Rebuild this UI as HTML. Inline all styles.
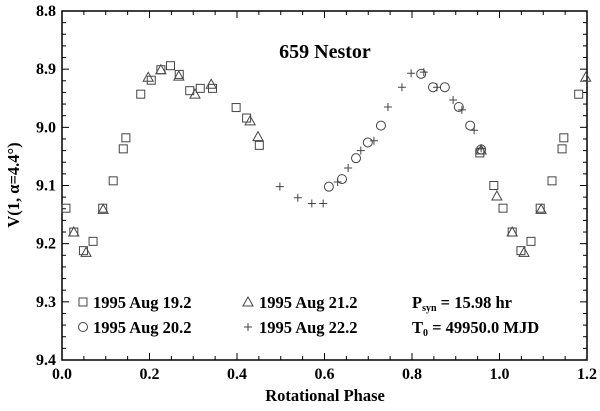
<!DOCTYPE html>
<html><head><meta charset="utf-8"><style>
body{margin:0;background:#fff}
svg text{font-family:"Liberation Serif",serif;font-weight:bold;fill:#000}
</style></head><body>
<svg id="c" width="600" height="406"></svg>
<script>
const sqPhase=[0.009,0.027,0.049,0.071,0.093,0.117,0.14,0.146,0.18,0.204,0.226,0.248,0.268,0.292,0.316,0.344,0.398,0.422,0.451,0.955,0.987,1.008,1.029,1.049,1.072,1.093,1.12,1.143,1.147,1.181];
const sqMag=[9.139,9.18,9.212,9.196,9.139,9.092,9.037,9.018,8.943,8.919,8.901,8.894,8.909,8.937,8.933,8.933,8.966,8.984,9.031,9.044,9.1,9.139,9.18,9.212,9.196,9.139,9.092,9.037,9.018,8.943];
const triPhase=[0.027,0.055,0.094,0.197,0.226,0.267,0.304,0.341,0.43,0.448,0.958,0.994,1.029,1.056,1.095,1.197];
const triMag=[9.18,9.215,9.141,8.914,8.901,8.912,8.943,8.926,8.989,9.016,9.039,9.118,9.18,9.215,9.141,8.914];
const cirPhase=[0.61,0.64,0.672,0.699,0.729,0.821,0.848,0.875,0.907,0.933,0.958];
const cirMag=[9.102,9.089,9.053,9.026,8.997,8.908,8.931,8.931,8.965,8.997,9.038];
const plusPhase=[0.498,0.539,0.571,0.597,0.63,0.654,0.683,0.713,0.745,0.777,0.798,0.827,0.857,0.894,0.914,0.942,0.958];
const plusMag=[9.102,9.121,9.131,9.131,9.094,9.07,9.04,9.023,8.965,8.931,8.907,8.905,8.931,8.953,8.97,9.005,9.036];
const xTicks=["0.0","0.2","0.4","0.6","0.8","1.0","1.2"];
const yTicks=["8.8","8.9","9.0","9.1","9.2","9.3","9.4"];
const L=62,R=587,T=11,B=360;
const X=p=>L+(p-0)/1.2*(R-L);
const Y=m=>T+(m-8.8)/0.6*(B-T);
const svg=document.getElementById('c');
const NS='http://www.w3.org/2000/svg';
function mk(t,a,p){const e=document.createElementNS(NS,t);for(const k in a)e.setAttribute(k,a[k]);(p||svg).appendChild(e);return e;}
let e=mk('rect',{x:L,y:T,width:R-L,height:B-T,fill:'none',stroke:'#000','stroke-width':1.5});


const tk=mk('g',{stroke:'#000','stroke-width':1});


for(let i=0;i<=24;i++){const x=X(i*0.05),len=i%4==0?7:4;
mk('line',{x1:x,y1:B,x2:x,y2:B-len},tk);mk('line',{x1:x,y1:T,x2:x,y2:T+len},tk);}
for(let i=0;i<=30;i++){const y=Y(8.8+i*0.02),len=i%5==0?7:4;
mk('line',{x1:L,y1:y,x2:L+len,y2:y},tk);mk('line',{x1:R,y1:y,x2:R-len,y2:y},tk);}
xTicks.forEach((t,i)=>{e=mk('text',{x:X(+t),y:B+19,'text-anchor':'middle','font-size':16});e.textContent=t;

});
yTicks.forEach((t,i)=>{e=mk('text',{x:L-6,y:Y(+t)+5,'text-anchor':'end','font-size':16});e.textContent=t;

});
function sq(x,y,g){mk('rect',{x:x-4,y:y-4,width:8,height:8,fill:'none',stroke:'#444','stroke-width':1},g);}
function tri(x,y,g){mk('polygon',{points:`${x},${y-5} ${x-5},${y+4} ${x+5},${y+4}`,fill:'none',stroke:'#444','stroke-width':1},g);}
function cir(x,y,g){mk('circle',{cx:x,cy:y,r:4.5,fill:'none',stroke:'#444','stroke-width':1},g);}
function plus(x,y,g){mk('path',{d:`M${x-4},${y}H${x+4}M${x},${y-4}V${y+4}`,stroke:'#444','stroke-width':1},g);}
function series(name,ph,mg,f){const g=mk('g',{});


ph.forEach((p,i)=>f(X(p),Y(mg[i]),g));}
series('series-aug-19',sqPhase,sqMag,sq);
series('series-aug-21',triPhase,triMag,tri);
series('series-aug-20',cirPhase,cirMag,cir);
series('series-aug-22',plusPhase,plusMag,plus);
e=mk('text',{x:325,y:58,'text-anchor':'middle','font-size':20});e.textContent='659 Nestor';


e=mk('text',{x:325,y:401,'text-anchor':'middle','font-size':16.5});e.textContent='Rotational Phase';


e=mk('text',{x:19,y:185,'text-anchor':'middle','font-size':16.5,transform:'rotate(-90 19 185)'});e.textContent='V(1, α=4.4°)';


const lg=mk('g',{});


sq(83,302,lg);cir(83,327,lg);tri(248,302,lg);plus(248,327,lg);
[['1995 Aug 19.2',93,308],['1995 Aug 20.2',93,333],['1995 Aug 21.2',259,308],['1995 Aug 22.2',259,333]].forEach(a=>{
e=mk('text',{x:a[1],y:a[2],'font-size':16.5},lg);e.textContent=a[0];

});
e=mk('text',{x:412,y:308,'font-size':16.5});e.innerHTML='P<tspan font-size="10" dy="3">syn</tspan><tspan dy="-3"> = 15.98 hr</tspan>';


e=mk('text',{x:412,y:333,'font-size':16.5});e.innerHTML='T<tspan font-size="10" dy="3">0</tspan><tspan dy="-3"> = 49950.0 MJD</tspan>';


</script>
</body></html>
